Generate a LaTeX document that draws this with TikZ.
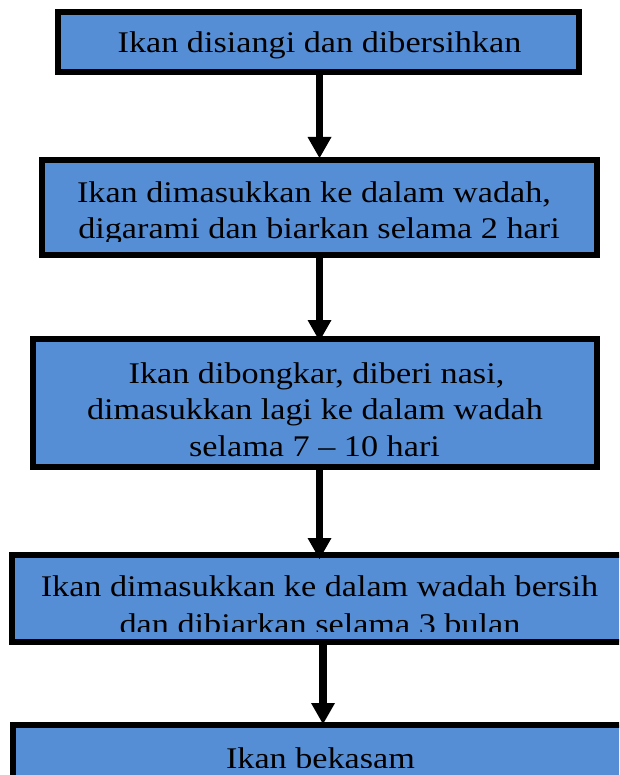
\documentclass[tikz,border=0pt]{standalone}
\usepackage{fontspec}
\setmainfont{Liberation Serif}[FakeStretch=1.14]
\usetikzlibrary{arrows.meta}
\definecolor{stepblue}{RGB}{85,142,213}
\begin{document}
\begin{tikzpicture}[x=1pt,y=-1pt,
  stepbox/.style={draw=black,fill=stepblue,line width=6pt,rectangle,inner sep=0pt},
  steptext/.style={anchor=base,inner sep=0pt,font=\fontsize{30}{36}\selectfont},
  flow/.style={line width=7.5pt,-{Triangle[width=24pt,length=21pt,line width=0pt]}}]
\useasboundingbox (0,0) rectangle (619,775);
\clip (0,0) rectangle (619,775);

% process boxes
\node (b1) [stepbox,minimum width=521pt,minimum height=60pt] at (318.5,42) {};
\node (b2) [stepbox,minimum width=555pt,minimum height=95pt] at (319.5,207.5) {};
\node (b3) [stepbox,minimum width=564pt,minimum height=128pt] at (315,403) {};
\node (b4) [stepbox,minimum width=628pt,minimum height=87pt] at (326,598.5) {};
\node (b5) [stepbox,minimum width=627pt,minimum height=95pt] at (326.5,772.5) {};

% box texts (lower lines are cut off by the text frame)
\node (t1) [steptext] at (319.5,52.5) {Ikan disiangi dan dibersihkan};
\node (t2a) [steptext] at (314,203) {Ikan dimasukkan ke dalam wadah,};
\begin{scope}
  \clip (0,160) rectangle (619,242);
  \node (t2b) [steptext] at (319,238.5) {digarami dan biarkan selama 2 hari};
\end{scope}
\node (t3a) [steptext] at (316.5,383) {Ikan dibongkar, diberi nasi,};
\node (t3b) [steptext] at (315,419) {dimasukkan lagi ke dalam wadah};
\node (t3c) [steptext] at (314.5,456) {selama 7 -- 10 hari};
\node (t4a) [steptext] at (319.5,596) {Ikan dimasukkan ke dalam wadah bersih};
\begin{scope}
  \clip (0,555) rectangle (619,631);
  \node (t4b) [steptext] at (320,634) {dan dibiarkan selama 3 bulan};
\end{scope}
\begin{scope}
  \clip (0,725) rectangle (619,767);
  \node (t5) [steptext] at (320.5,768) {Ikan bekasam};
\end{scope}

% connectors
\draw[flow] ([xshift=1pt]b1.south) -- ([xshift=1pt,yshift=-1pt]b1.south |- b2.north);
\draw[flow] (b2.south) -- ([yshift=-5pt]b2.south |- b3.north);
\draw[flow] ([xshift=4.5pt]b3.south) -- ([xshift=4.5pt,yshift=-7pt]b3.south |- b4.north);
\draw[flow] ([xshift=-3pt,yshift=4pt]b4.south) -- ([xshift=-3pt,yshift=-2pt]b4.south |- b5.north);
\end{tikzpicture}
\end{document}
